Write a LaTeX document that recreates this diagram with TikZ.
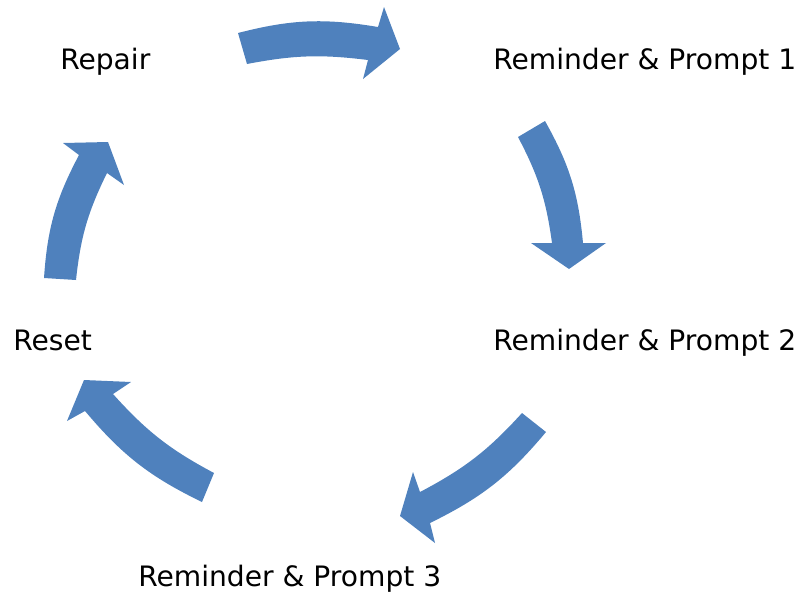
\documentclass[tikz,border=0pt]{standalone}
\usepackage{fontspec}
\setmainfont{DejaVu Sans}
\begin{document}
\begin{tikzpicture}[x=0.75pt,y=-0.75pt,
  lbl/.style={anchor=base west,inner sep=0pt,font=\fontsize{21.1pt}{24pt}\selectfont,text=black},
  cyc/.style={fill=arrowblue,draw=none}]
\definecolor{arrowblue}{HTML}{4F81BD}
\useasboundingbox (0,0) rectangle (800,594);
% text nodes
\node[lbl] (repair) at (60,69) {Repair};
\node[lbl] (rp1) at (493,69) {Reminder \& Prompt 1};
\node[lbl] (rp2) at (493,350) {Reminder \& Prompt 2};
\node[lbl] (rp3) at (138,586) {Reminder \& Prompt 3};
\node[lbl] (reset) at (13,350) {Reset};
% arrows (circular block arrows)
\fill[cyc] (238,33) to[bend left=12] (378,27) -- (384,7) -- (400,49) -- (363,79) -- (368,60) to[bend right=9] (247,64) -- cycle;
\fill[cyc] (545,121) to[bend left=12] (583,243) -- (606,243) -- (569,269) -- (531,243) -- (552,243) to[bend right=10] (518,137) -- cycle;
\fill[cyc] (546,432) to[bend left=12] (430,523) -- (435,543) -- (400,516) -- (413,472) -- (420,492) to[bend right=10] (522,413) -- cycle;
\fill[cyc] (202,502) to[bend left=12] (85,411) -- (67,421) -- (84,380) -- (131,382) -- (113,394) to[bend right=10] (214,473) -- cycle;
\fill[cyc] (44,278) to[bend left=12] (79,155) -- (63,143) -- (108,142) -- (124,185) -- (107,173) to[bend right=10] (76,280) -- cycle;
\end{tikzpicture}
\end{document}
